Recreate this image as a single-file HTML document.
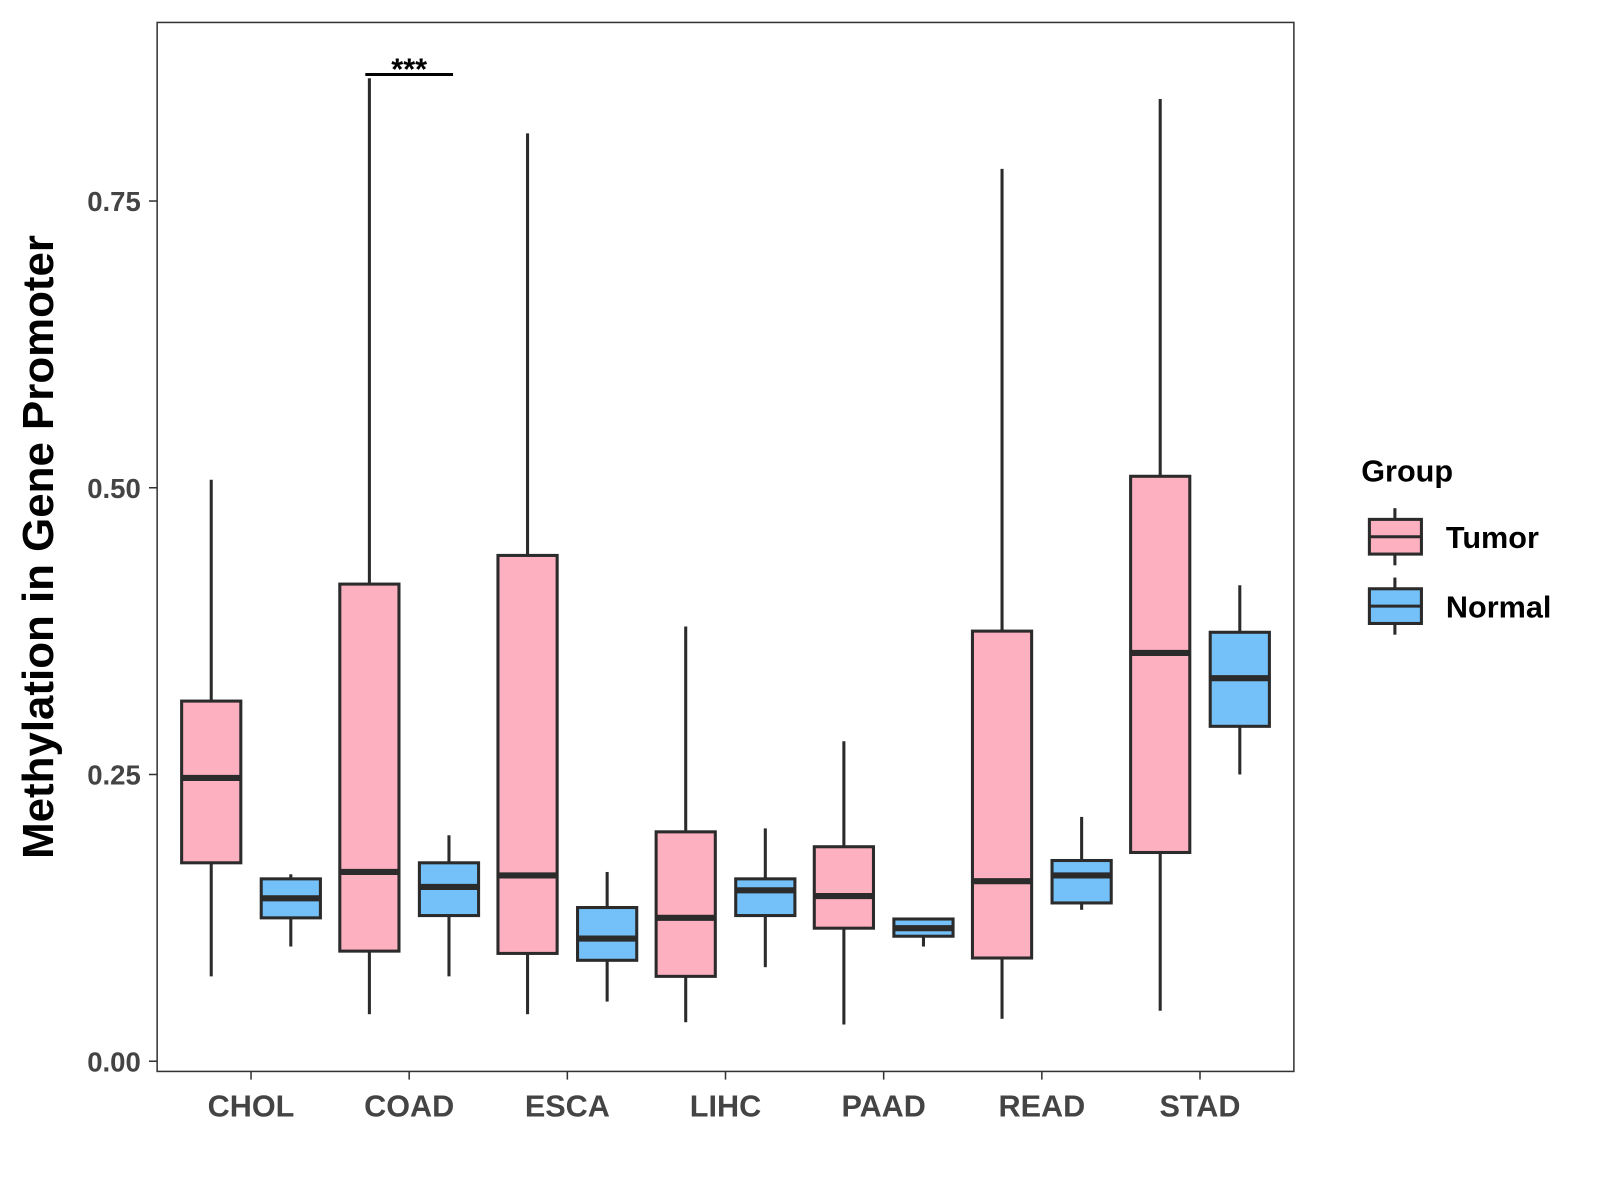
<!DOCTYPE html>
<html><head><meta charset="utf-8">
<style>
html,body{margin:0;padding:0;background:#fff;}
svg{display:block;font-family:"Liberation Sans",Arial,sans-serif;}
</style></head>
<body>
<svg id="chart" width="1600" height="1200" viewBox="0 0 1568 1176">
<rect x="0" y="0" width="1568" height="1176" fill="#fff"/>
<rect x="154" y="22" width="1114" height="1028" fill="none" stroke="#333" stroke-width="1.5"/>
<g id="yaxis"></g>
<g id="xaxis"></g>
<g id="boxes"></g>
<text x="52" y="536" transform="rotate(-90 52 536)" text-anchor="middle" font-size="43" font-weight="bold" fill="#000">Methylation in Gene Promoter</text>
<line x1="358" y1="73" x2="444" y2="73" stroke="#000" stroke-width="3"/>
<text x="401" y="78" text-anchor="middle" font-size="30" font-weight="bold" fill="#000">***</text>
<g>
<text x="1334" y="472" font-size="30" font-weight="bold" fill="#000">Group</text>
<g>
<line x1="1367" y1="498" x2="1367" y2="554" stroke="#2b2b2b" stroke-width="3"/>
<rect x="1342" y="509" width="51" height="34" fill="#FDB0C0" stroke="#2b2b2b" stroke-width="3"/>
<line x1="1342" y1="526" x2="1393" y2="526" stroke="#2b2b2b" stroke-width="3"/>
<text x="1417" y="537" font-size="30" font-weight="bold" fill="#000">Tumor</text>
</g>
<g>
<line x1="1367" y1="566" x2="1367" y2="622" stroke="#2b2b2b" stroke-width="3"/>
<rect x="1342" y="577" width="51" height="34" fill="#74C0F8" stroke="#2b2b2b" stroke-width="3"/>
<line x1="1342" y1="594" x2="1393" y2="594" stroke="#2b2b2b" stroke-width="3"/>
<text x="1417" y="605" font-size="30" font-weight="bold" fill="#000">Normal</text>
</g>
</g>
</svg>
<script>
const categories = ["CHOL","COAD","ESCA","LIHC","PAAD","READ","STAD"];
// [min, q1, median, q3, max]
const tumorStats = [
 [0.074,0.173,0.247,0.314,0.507],
 [0.041,0.096,0.165,0.416,0.857],
 [0.041,0.094,0.162,0.441,0.809],
 [0.034,0.074,0.125,0.200,0.379],
 [0.032,0.116,0.144,0.187,0.279],
 [0.037,0.090,0.157,0.375,0.778],
 [0.044,0.182,0.356,0.510,0.839]
];
const normalStats = [
 [0.100,0.125,0.142,0.159,0.163],
 [0.074,0.127,0.152,0.173,0.197],
 [0.052,0.088,0.107,0.134,0.165],
 [0.082,0.127,0.149,0.159,0.203],
 [0.100,0.109,0.116,0.124,0.125],
 [0.132,0.138,0.162,0.175,0.213],
 [0.250,0.292,0.334,0.374,0.415]
];
const yTicks = [0,0.25,0.5,0.75];
const yTickLabels = ["0.00","0.25","0.50","0.75"];

const NS="http://www.w3.org/2000/svg";
function yScale(v){return 1040 - v*1124;}
function xScale(i){return 246 + i*155;}
function mk(tag, attrs, parent){const e=document.createElementNS(NS,tag);for(const k in attrs)e.setAttribute(k,attrs[k]);parent.appendChild(e);return e;}

const yax=document.getElementById('yaxis');
yTicks.forEach((t,i)=>{
  const y=yScale(t);
  const tk=mk('line',{x1:146,x2:154,y1:y,y2:y,stroke:'#333','stroke-width':1.5},yax);
  
  
  const tx=mk('text',{x:138,y:y+10,'text-anchor':'end','font-size':27,'font-weight':'bold',fill:'#444'},yax);
  tx.textContent=yTickLabels[i];
  
  
});
const xax=document.getElementById('xaxis');
categories.forEach((c,i)=>{
  const x=xScale(i);
  const tk=mk('line',{x1:x,x2:x,y1:1050,y2:1058,stroke:'#333','stroke-width':1.5},xax);
  
  
  const tx=mk('text',{x:x,y:1094,'text-anchor':'middle','font-size':30,'font-weight':'bold',fill:'#444'},xax);
  tx.textContent=c;
  
  
});
const bx=document.getElementById('boxes');
function drawBox(s,cx,fill,name){
  const g=mk('g',{},bx);
  
  
  const w=58;
  mk('line',{x1:cx,x2:cx,y1:yScale(s[4]),y2:yScale(s[3]),stroke:'#2b2b2b','stroke-width':3},g);
  mk('line',{x1:cx,x2:cx,y1:yScale(s[1]),y2:yScale(s[0]),stroke:'#2b2b2b','stroke-width':3},g);
  mk('rect',{x:cx-w/2,y:yScale(s[3]),width:w,height:yScale(s[1])-yScale(s[3]),fill:fill,stroke:'#2b2b2b','stroke-width':3},g);
  mk('line',{x1:cx-w/2,x2:cx+w/2,y1:yScale(s[2]),y2:yScale(s[2]),stroke:'#2b2b2b','stroke-width':6},g);
}
categories.forEach((c,i)=>{
  drawBox(tumorStats[i],xScale(i)-39,'#FDB0C0','box-tumor-'+c.toLowerCase());
  drawBox(normalStats[i],xScale(i)+39,'#74C0F8','box-normal-'+c.toLowerCase());
});
</script>
</body></html>
